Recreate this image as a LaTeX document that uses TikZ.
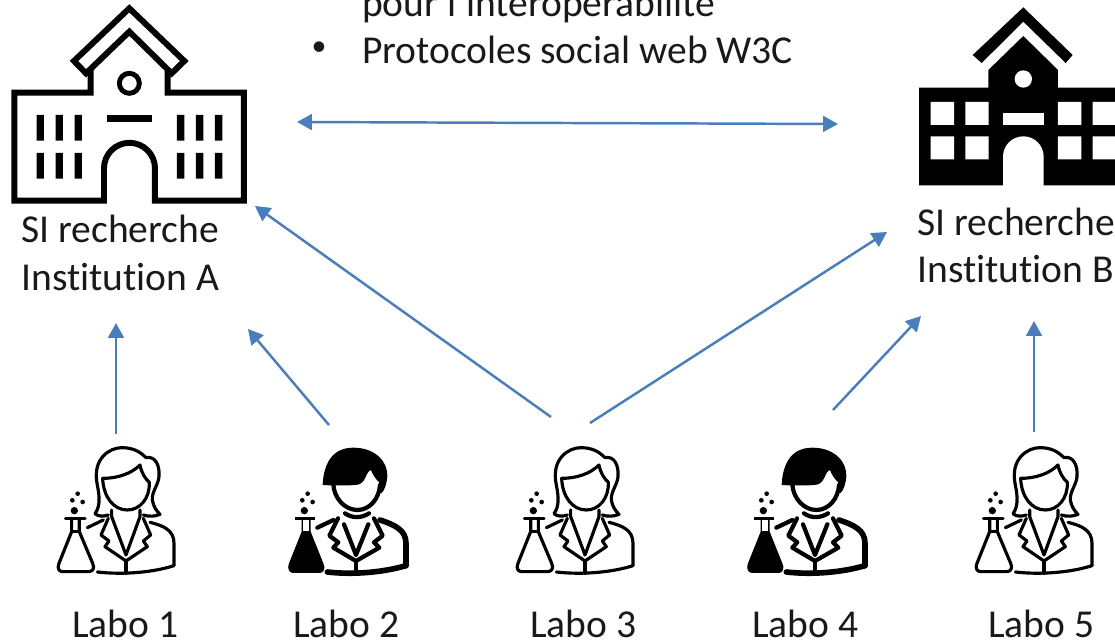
\documentclass[tikz,border=0pt]{standalone}
\usepackage{fontspec}
\setmainfont[Ligatures=NoCommon]{Carlito}
\usetikzlibrary{arrows.meta}

\definecolor{arrowblue}{HTML}{4A7EBB}
\newcommand{\bubbles}{
    \fill (103,227) circle (11);
    \fill (97,196) circle (7);
    \fill (128,201) circle (7);
    \fill (113,176) circle (7);
}
\tikzset{
  label/.style={anchor=base west, inner sep=0pt, outer sep=0pt, font=\fontsize{22.5}{27}\selectfont, text=black!90},
  link/.style={draw=arrowblue, line width=1.4pt, -{Triangle[length=8.5pt,width=9pt]}},
  biglink/.style={draw=arrowblue, line width=1.4pt, {Triangle[length=8.5pt,width=9pt]}-{Triangle[length=8.5pt,width=9pt]}},
  pics/woman/.style={code={
    \bubbles
    \begin{scope}[line width=1.8pt, line join=round, line cap=round]
    % flask
    \draw (76,250) -- (135,250);
    \draw (95,250) -- (95,290) -- (57,385) .. controls (50,405) and (60,410) .. (70,410)
      -- (145,410) .. controls (158,410) and (165,400) .. (158,385) -- (118,290) -- (118,250);
    \draw (95,290) -- (118,290);
    % hair
    \draw (205,240) .. controls (190,245) and (175,245) .. (165,236) .. controls (180,215) and (180,190) .. (172,150)
      .. controls (155,70) and (210,38) .. (245,38) .. controls (280,38) and (300,50) .. (318,68)
      .. controls (345,62) and (360,90) .. (357,125) .. controls (355,150) and (335,170) .. (337,195)
      .. controls (340,215) and (350,228) .. (360,238) .. controls (345,245) and (325,245) .. (310,240);
    % face
    \draw (188,130) .. controls (235,130) and (275,115) .. (300,90) .. controls (305,115) and (315,130) .. (328,142)
      .. controls (330,190) and (300,225) .. (262,225) .. controls (220,225) and (190,185) .. (188,130) -- cycle;
    % coat
    \draw (215,225) -- (215,245) -- (258,360) -- (300,245) -- (300,225);
    \draw (205,250) -- (183,300) -- (207,318) -- (195,335) -- (258,378) -- (322,335) -- (310,318) -- (332,300) -- (310,250);
    \draw (258,378) -- (258,415);
    \draw (142,278) -- (190,255);
    \draw (330,262) .. controls (370,272) and (402,285) .. (402,325) -- (402,392);
    \draw (172,411) .. controls (250,420) and (340,412) .. (402,392);
    \end{scope}
  }},
  pics/man/.style={code={
    \bubbles
    % flask
    \draw[line width=2pt] (76,250) -- (135,250);
    \fill[line join=round] (95,250) -- (95,290) -- (57,385) .. controls (50,405) and (60,414) .. (70,414)
      -- (150,414) .. controls (160,414) and (168,400) .. (160,385) -- (122,290) -- (122,250) -- cycle;
    \fill[white] (100,256) rectangle (118,288);
    % hair
    \fill (158,150) .. controls (160,105) and (175,38) .. (250,38) .. controls (320,38) and (355,85) .. (352,125)
      .. controls (350,145) and (345,165) .. (334,175) -- (330,145) .. controls (315,130) and (308,118) .. (303,105)
      .. controls (285,110) and (290,150) .. (255,150) .. controls (230,152) and (190,152) .. (158,150) -- cycle;
    % face and coat
    \begin{scope}[line width=2.4pt, line join=round, line cap=round]
    \draw (190,148) .. controls (192,190) and (225,225) .. (262,225) .. controls (300,225) and (328,190) .. (330,150);
    \draw (225,235) .. controls (245,250) and (275,250) .. (297,235);
    \draw (222,268) -- (258,360) -- (295,268);
    \draw (204,250) -- (178,302) -- (205,322) -- (190,338) -- (258,378) -- (328,338) -- (312,322) -- (338,302) -- (312,250);
    \draw (258,378) -- (258,415);
    \draw (142,278) -- (190,255);
    \end{scope}
    \begin{scope}[line width=3.2pt, line join=round, line cap=round]
    \draw (330,255) .. controls (375,270) and (408,285) .. (408,325) -- (408,392);
    \draw (172,411) .. controls (250,420) and (340,412) .. (408,392);
    \end{scope}
  }},
  pics/whitebuilding/.style={code={
    \begin{scope}[line width=3.4pt, line join=miter]
    \draw (272,205) -- (272,278) -- (43,278) -- (43,602) -- (312,602) -- (312,505)
      arc[start angle=180, end angle=360, radius=76.5] -- (465,602) -- (732,602) -- (732,278) -- (503,278) -- (503,205);
    \draw (388,25) -- (553,183) -- (515,220) -- (388,95) -- (258,220) -- (222,183) -- cycle;
    \draw[line width=2.8pt] (388,250) circle (30);
    \end{scope}
    \fill (320,345) rectangle (456,367);
    \fill (110,345) rectangle (132,422) (167,345) rectangle (189,422) (224,345) rectangle (246,422);
    \fill (531,345) rectangle (553,422) (588,345) rectangle (610,422) (645,345) rectangle (667,422);
    \fill (110,459) rectangle (132,536) (167,459) rectangle (189,536) (224,459) rectangle (246,536);
    \fill (531,459) rectangle (553,536) (588,459) rectangle (610,536) (645,459) rectangle (667,536);
  }},
  pics/blackbuilding/.style={code={
    \fill (370,22) -- (518,165) -- (497,189) -- (370,65) -- (245,189) -- (218,165) -- cycle;
    \fill (57,263) -- (265,263) -- (265,210) -- (370,108) -- (474,210) -- (474,263) -- (660,263) -- (660,556) -- (57,556) -- cycle;
    \fill[white] (370,237) circle (26);
    \fill[white] (92,306) rectangle (162,375) (196,306) rectangle (266,375);
    \fill[white] (474,306) rectangle (544,375) (578,306) rectangle (660,375);
    \fill[white] (92,409) rectangle (162,478) (196,409) rectangle (266,478);
    \fill[white] (474,409) rectangle (544,478) (578,409) rectangle (660,478);
    \fill[white] (309,340) rectangle (431,375);
    \fill[white] (309,560) -- (309,470) arc[start angle=180, end angle=360, radius=61] -- (431,560) -- cycle;
  }}
}

\begin{document}
\begin{tikzpicture}[x=0.02cm, y=-0.02cm]
\clip (0,0) rectangle (1115,642);

% institutions
\pic[scale=0.3333] at (0,0) {whitebuilding};
\pic[scale=0.3333] at (900,0) {blackbuilding};

% labs
\pic[scale=0.3333] at (40,435) {woman};
\pic[scale=0.3333] at (270,435) {man};
\pic[scale=0.3333] at (499,435) {woman};
\pic[scale=0.3333] at (729,435) {man};
\pic[scale=0.3333] at (958,435) {woman};

% text
\node[label] (proto1) at (362,17) {pour l'interopérabilité};
\node[label] (proto2) at (362,63.5) {Protocoles social web W3C};
\node[label, anchor=center, font=\fontsize{17}{19}\selectfont] (puce) at (319,49) {•};
\node[label] (sia) at (21.5,242) {SI recherche};
\node[label] (insta) at (21.5,290) {Institution A};
\node[label] (sib) at (917.5,235) {SI recherche};
\node[label] (instb) at (917.5,282.5) {Institution B};
\node[label] (labo1) at (72,637) {Labo 1};
\node[label] (labo2) at (293,637) {Labo 2};
\node[label] (labo3) at (530,637) {Labo 3};
\node[label] (labo4) at (752,637) {Labo 4};
\node[label] (labo5) at (988,637) {Labo 5};

% arrow ends
\coordinate (ab-w) at (297,122);
\coordinate (ab-e) at (838,124);
\coordinate (a-in1) at (116,323);
\coordinate (a-in2) at (248,329);
\coordinate (a-in3) at (255,206);
\coordinate (b-in3) at (887,232);
\coordinate (b-in4) at (921,316);
\coordinate (b-in5) at (1034,321);
\coordinate (l1-out) at (116,434);
\coordinate (l2-out) at (329,425);
\coordinate (l3-outa) at (551,417);
\coordinate (l3-outb) at (590,423);
\coordinate (l4-out) at (833,410);
\coordinate (l5-out) at (1034,432);

\draw[biglink] (ab-w) -- (ab-e);
\draw[link] (l1-out) -- (a-in1);
\draw[link] (l2-out) -- (a-in2);
\draw[link] (l3-outa) -- (a-in3);
\draw[link] (l3-outb) -- (b-in3);
\draw[link] (l4-out) -- (b-in4);
\draw[link] (l5-out) -- (b-in5);
\end{tikzpicture}
\end{document}
